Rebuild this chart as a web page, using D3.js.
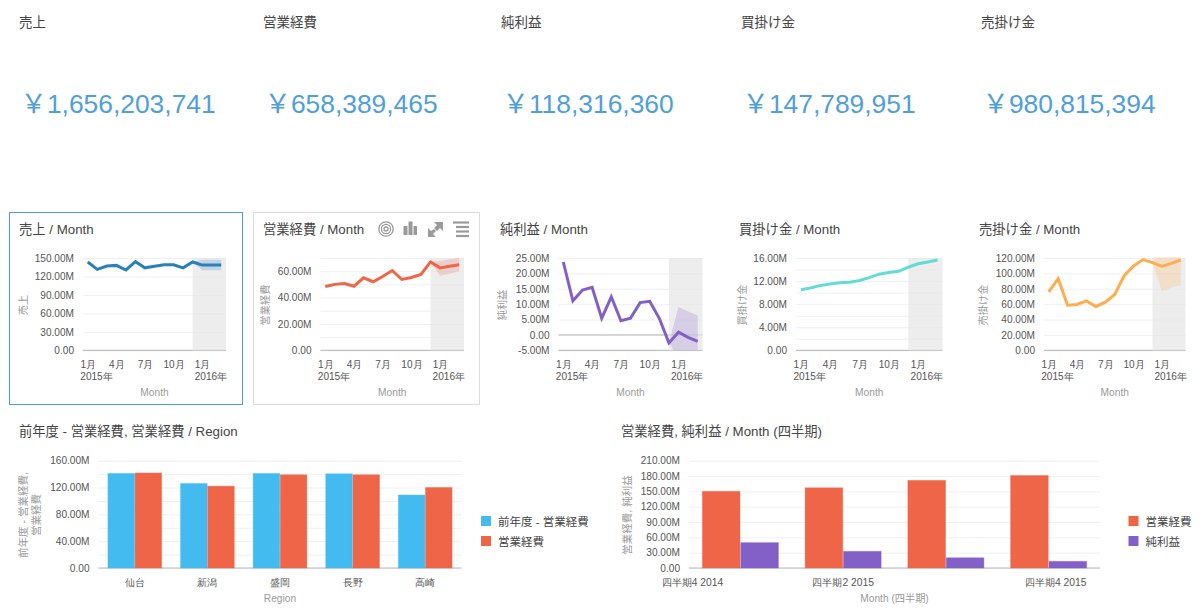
<!DOCTYPE html>
<html>
<head>
<meta charset="utf-8">
<script src="https://cdn.jsdelivr.net/npm/d3@7"></script>
<style>
body { margin: 0; background: #fff; }
svg { display: block; font-family: "Liberation Sans", "Noto Sans CJK JP", sans-serif; }
</style>
</head>
<body>
<div id="chart"></div>
<script>
// kpi tiles
const kpiLabels = ['売上', '営業経費', '純利益', '買掛け金', '売掛け金'];
const kpiValues = [1656203741, 658389465, 118316360, 147789951, 980815394];

// monthly series, millions of yen
const months = ['2015-01', '2015-02', '2015-03', '2015-04', '2015-05', '2015-06', '2015-07', '2015-08',
                '2015-09', '2015-10', '2015-11', '2015-12', '2016-01', '2016-02', '2016-03'];
const monthTicks = ['2015-01', '2015-04', '2015-07', '2015-10', '2016-01'];
const monthTickLabels = ['1月', '4月', '7月', '10月', '1月'];
const yearTickLabels = ['2015年', '', '', '', '2016年'];

const salesValues = [143.5, 131.5, 137, 138, 130.5, 144, 134, 136.5, 139, 139, 134, 143.5, 138.5, 138.5, 138.5];
const salesUpper = [143.5, 147, 147, 147];
const salesLower = [143.5, 130, 130, 130];
const salesTicks = [0, 30, 60, 90, 120, 150];

const costValues = [48.4, 50, 50.6, 48.6, 55, 52, 56, 60.5, 53.7, 55.2, 57.5, 67, 62.5, 63.8, 64.8];
const costUpper = [67, 67.8, 69, 70];
const costLower = [67, 56.5, 58, 60];
const costTicks = [0, 10, 20, 30, 40, 50, 60, 70];

const profitValues = [23.7, 11.1, 14.6, 15.5, 5.4, 12.4, 4.6, 5.4, 10.5, 10.9, 5.4, -2.6, 0.9, -0.8, -2.1];
const profitUpper = [-2.6, 9.1, 7.6, 6.3];
const profitLower = [-2.6, -7.2, -8.5, -10];
const profitTicks = [-5, 0, 5, 10, 15, 20, 25];

const payableValues = [10.5, 10.8, 11.25, 11.5, 11.7, 11.8, 12.1, 12.6, 13.2, 13.5, 13.7, 14.4, 15, 15.3, 15.65];
const payableUpper = [14.4, 15.1, 15.4, 15.75];
const payableLower = [14.4, 14.9, 15.2, 15.55];
const payableTicks = [0, 2, 4, 6, 8, 10, 12, 14, 16];

const receivableValues = [76, 93, 58.7, 59.6, 64.3, 57, 62.6, 72.6, 97, 109.6, 118, 114, 109, 113, 117.4];
const receivableUpper = [114, 150, 150, 150];
const receivableLower = [114, 76.5, 81.7, 85];
const receivableTicks = [0, 20, 40, 60, 80, 100, 120];

// region bars
const regions = ['仙台', '新潟', '盛岡', '長野', '高崎'];
const regionSeries = ['前年度 - 営業経費', '営業経費'];
const regionPrevCost = [141, 126, 141, 140.5, 108.8];
const regionCost = [141.6, 122, 139, 139, 120];
const regionTicks = [0, 20, 40, 60, 80, 100, 120, 140, 160];

// quarter bars
const quarters = ['Q4 2014', 'Q1 2015', 'Q2 2015', 'Q3 2015'];
const quarterLabels = ['四半期4 2014', '四半期2 2015', '', '四半期4 2015'];
const quarterSeries = ['営業経費', '純利益'];
const quarterCost = [150, 157, 171.5, 181];
const quarterProfit = [49.6, 32.6, 20, 13];
const quarterTicks = [0, 30, 60, 90, 120, 150, 180, 210];

const colors = {sales: '#2a80b9', cost: '#ee6548', profit: '#8260c8', payable: '#64dcd6', receivable: '#ffae4f', prev: '#43bbf0'};

const svg = d3.select('#chart').append('svg')
    .attr('width', 1200)
    .attr('height', 608);

const fmtM = d => d === 0 ? '0.00' : d.toFixed(2) + 'M';
const tickColor = '#555';
const titleColor = '#9a9a9a';
const gridColor = '#eef0f4';
const axisColor = '#b5b5b5';

function title(text, x, y) {
    svg.append('text').attr('x', x).attr('y', y)
        .style('font-size', '13.3px').style('fill', '#444')
        .text(text);
}

// y scale, gridlines and labels; labelEvery skips labels on minor gridlines
function yAxis(g, y, ticks, labelEvery, width, bottom) {
    const axis = d3.axisLeft(y)
        .tickValues(ticks)
        .tickSize(-width)
        .tickPadding(9)
        .tickFormat((d, i) => i % labelEvery === 0 ? fmtM(d) : '');
    const a = g.append('g').call(axis);
    a.select('.domain').remove();
    a.selectAll('line').style('stroke', gridColor);
    a.selectAll('text').style('font-size', '10.1px').style('fill', tickColor);
    g.append('line')
        .attr('x1', 0).attr('x2', width)
        .attr('y1', bottom).attr('y2', bottom)
        .style('stroke', axisColor);
}

function lineChart(cfg) {
    const w = cfg.right - cfg.left;
    const h = 92.3;
    const g = svg.append('g').attr('transform', 'translate(' + cfg.left + ',258)');

    const x = d3.scalePoint().domain(months).range([0, w]).padding(0.5);
    const y = d3.scaleLinear().domain(cfg.domain).range([h, 0]);

    title(cfg.title, cfg.titleX, 234);
    yAxis(g, y, cfg.ticks, cfg.labelEvery, w, h);

    if (cfg.domain[0] < 0) {
        g.append('line')
            .attr('x1', 0).attr('x2', w)
            .attr('y1', y(0)).attr('y2', y(0))
            .style('stroke', axisColor);
    }

    // forecast area
    const forecast = months.slice(11);
    g.append('rect')
        .attr('x', x(forecast[0]))
        .attr('y', 0)
        .attr('width', w - x(forecast[0]))
        .attr('height', h)
        .style('fill', '#e6e6e6')
        .style('opacity', 0.7);

    g.append('clipPath').attr('id', 'clip-' + cfg.id)
        .append('rect').attr('x', 0).attr('y', -1).attr('width', w).attr('height', h + 1);

    const band = d3.area()
        .x(d => x(d))
        .y0((d, i) => y(cfg.lower[i]))
        .y1((d, i) => y(cfg.upper[i]));

    g.append('path')
        .datum(forecast)
        .attr('d', band)
        .attr('clip-path', 'url(#clip-' + cfg.id + ')')
        .style('fill', cfg.color)
        .style('opacity', 0.22);

    const line = d3.line()
        .x((d, i) => x(months[i]))
        .y(d => y(d));

    g.append('path')
        .datum(cfg.values)
        .attr('d', line)
        .style('fill', 'none')
        .style('stroke', cfg.color)
        .style('stroke-width', 3);

    const xAxis = d3.axisBottom(x)
        .tickValues(monthTicks)
        .tickSize(0)
        .tickPadding(0)
        .tickFormat((d, i) => monthTickLabels[i]);
    const a = g.append('g').attr('transform', 'translate(0,' + h + ')').call(xAxis);
    a.select('.domain').remove();
    a.selectAll('text')
        .attr('y', 18).attr('dy', 0)
        .style('font-size', '10.1px').style('fill', tickColor);
    a.selectAll('.tick').append('text')
        .attr('x', -8).attr('y', 30)
        .attr('text-anchor', 'start')
        .style('font-size', '10.1px').style('fill', tickColor)
        .text((d, i) => yearTickLabels[i]);

    g.append('text')
        .attr('x', w / 2).attr('y', 138)
        .attr('text-anchor', 'middle')
        .style('font-size', '10.2px').style('fill', titleColor)
        .text('Month');

    svg.append('text')
        .attr('transform', 'translate(' + cfg.yTitleX + ',305) rotate(-90)')
        .attr('text-anchor', 'middle')
        .style('font-size', '10.2px').style('fill', titleColor)
        .text(cfg.yTitle);
}

function barChart(cfg) {
    const w = cfg.right - cfg.left;
    const h = 107.3;
    const g = svg.append('g').attr('transform', 'translate(' + cfg.left + ',460.7)');

    const x0 = d3.scaleBand().domain(cfg.categories).range([0, w]).paddingInner(0.26).paddingOuter(0.13);
    const x1 = d3.scaleBand().domain(cfg.series).range([0, x0.bandwidth()]).paddingInner(0.02);
    const y = d3.scaleLinear().domain(cfg.domain).range([h, 0]);

    title(cfg.title, cfg.titleX, 436);
    yAxis(g, y, cfg.ticks, cfg.labelEvery, w, h);

    cfg.series.forEach((s, k) => {
        g.append('g')
            .selectAll('rect')
            .data(cfg.values[k])
            .enter()
            .append('rect')
            .attr('x', (d, i) => x0(cfg.categories[i]) + x1(s))
            .attr('y', d => y(d))
            .attr('width', x1.bandwidth())
            .attr('height', d => h - y(d))
            .style('fill', cfg.colors[k])
            .style('stroke', cfg.colors[k])
            .style('stroke-opacity', 0.4);
    });

    const xAxis = d3.axisBottom(x0)
        .tickSize(0)
        .tickFormat((d, i) => cfg.labels[i]);
    const a = g.append('g').attr('transform', 'translate(0,' + h + ')').call(xAxis);
    a.select('.domain').remove();
    a.selectAll('text')
        .attr('y', 18).attr('dy', 0)
        .attr('dx', (d, i) => cfg.labelShift ? cfg.labelShift[i] : 0)
        .style('font-size', '10.3px').style('fill', tickColor);

    g.append('text')
        .attr('x', w / 2).attr('y', 141)
        .attr('text-anchor', 'middle')
        .style('font-size', '10.2px').style('fill', titleColor)
        .text(cfg.xTitle);

    cfg.yTitle.forEach((t, i) => {
        svg.append('text')
            .attr('transform', 'translate(' + (cfg.yTitleX + i * 13) + ',515) rotate(-90)')
            .attr('text-anchor', 'middle')
            .style('font-size', '10.5px').style('fill', titleColor)
            .text(t);
    });

    const legend = svg.append('g').selectAll('g')
        .data(cfg.series)
        .enter()
        .append('g')
        .attr('transform', (d, i) => 'translate(' + cfg.legendX + ',' + (516 + i * 20) + ')');
    legend.append('rect')
        .attr('width', 10).attr('height', 10)
        .style('fill', (d, i) => cfg.colors[i]);
    legend.append('text')
        .attr('x', 17).attr('y', 9.5)
        .style('font-size', '11.5px').style('fill', '#444')
        .text(d => d);
}

// kpi row
const kpiLabelX = [19, 263, 501, 741, 981];
const fmtYen = d3.format(',');
kpiLabels.forEach((label, i) => {
    svg.append('text')
        .attr('x', kpiLabelX[i]).attr('y', 27)
        .style('font-size', '13.5px').style('fill', '#444')
        .text(label);
    svg.append('text')
        .attr('x', kpiLabelX[i] + 1.5).attr('y', 113)
        .style('font-size', '26.4px').style('fill', '#4f9fdc')
        .text('￥' + fmtYen(kpiValues[i]));
});

// tile frames
svg.append('rect').attr('x', 9.5).attr('y', 212.5).attr('width', 233).attr('height', 192)
    .style('fill', 'none').style('stroke', '#4a9be0');
svg.append('rect').attr('x', 253.5).attr('y', 212.5).attr('width', 226).attr('height', 192)
    .style('fill', 'none').style('stroke', '#dcdcdc');

// hover icons on the second tile
const icons = svg.append('g').style('fill', 'none').style('stroke', '#9a9a9a');
[7.2, 4.6, 2].forEach(r => icons.append('circle').attr('cx', 386).attr('cy', 229).attr('r', r).style('stroke-width', 1.3));
[[403.5, 226, 4, 9], [408.5, 221.5, 4, 13.5], [413.5, 226, 3.5, 9]].forEach(b => {
    icons.append('rect').attr('x', b[0]).attr('y', b[1]).attr('width', b[2]).attr('height', b[3])
        .style('fill', '#9a9a9a').style('stroke', 'none');
});
icons.append('path').attr('d', 'M434 222h9v9l-3-3-3 3-3-3 3-3zM428 228l3 3 3-2 2 2-3 3 3 3h-8z')
    .style('fill', '#9a9a9a').style('stroke', 'none');
[[453, 469, 222.5], [456, 469, 227], [456, 469, 231.5], [456, 469, 236]].forEach(l => {
    icons.append('line').attr('x1', l[0]).attr('x2', l[1]).attr('y1', l[2]).attr('y2', l[2]).style('stroke-width', 2.2);
});

lineChart({id: 'sales', title: '売上 / Month', titleX: 19, yTitle: '売上', yTitleX: 27, left: 83, right: 226,
    domain: [0, 150], ticks: salesTicks, labelEvery: 1, values: salesValues, upper: salesUpper, lower: salesLower, color: colors.sales});
lineChart({id: 'cost', title: '営業経費 / Month', titleX: 263, yTitle: '営業経費', yTitleX: 269, left: 320.5, right: 464,
    domain: [0, 70], ticks: costTicks, labelEvery: 2, values: costValues, upper: costUpper, lower: costLower, color: colors.cost});
lineChart({id: 'profit', title: '純利益 / Month', titleX: 500, yTitle: '純利益', yTitleX: 506, left: 558.5, right: 702.5,
    domain: [-5, 25], ticks: profitTicks, labelEvery: 1, values: profitValues, upper: profitUpper, lower: profitLower, color: colors.profit});
lineChart({id: 'payable', title: '買掛け金 / Month', titleX: 739, yTitle: '買掛け金', yTitleX: 746, left: 796, right: 942.5,
    domain: [0, 16], ticks: payableTicks, labelEvery: 2, values: payableValues, upper: payableUpper, lower: payableLower, color: colors.payable});
lineChart({id: 'receivable', title: '売掛け金 / Month', titleX: 979, yTitle: '売掛け金', yTitleX: 987, left: 1044, right: 1185.5,
    domain: [0, 120], ticks: receivableTicks, labelEvery: 1, values: receivableValues, upper: receivableUpper, lower: receivableLower, color: colors.receivable});

barChart({title: '前年度 - 営業経費, 営業経費 / Region', titleX: 19, left: 98.5, right: 461.5,
    categories: regions, labels: regions, series: regionSeries, values: [regionPrevCost, regionCost],
    colors: [colors.prev, colors.cost], domain: [0, 160], ticks: regionTicks, labelEvery: 2,
    xTitle: 'Region', yTitle: ['前年度 - 営業経費,', '営業経費'], yTitleX: 27, legendX: 481});

barChart({title: '営業経費, 純利益 / Month (四半期)', titleX: 621, left: 689, right: 1100,
    categories: quarters, labels: quarterLabels, labelShift: [-48, 0, 0, 7], series: quarterSeries, values: [quarterCost, quarterProfit],
    colors: [colors.cost, colors.profit], domain: [0, 210], ticks: quarterTicks, labelEvery: 1,
    xTitle: 'Month (四半期)', yTitle: ['営業経費, 純利益'], yTitleX: 631, legendX: 1128.5});
</script>
</body>
</html>
